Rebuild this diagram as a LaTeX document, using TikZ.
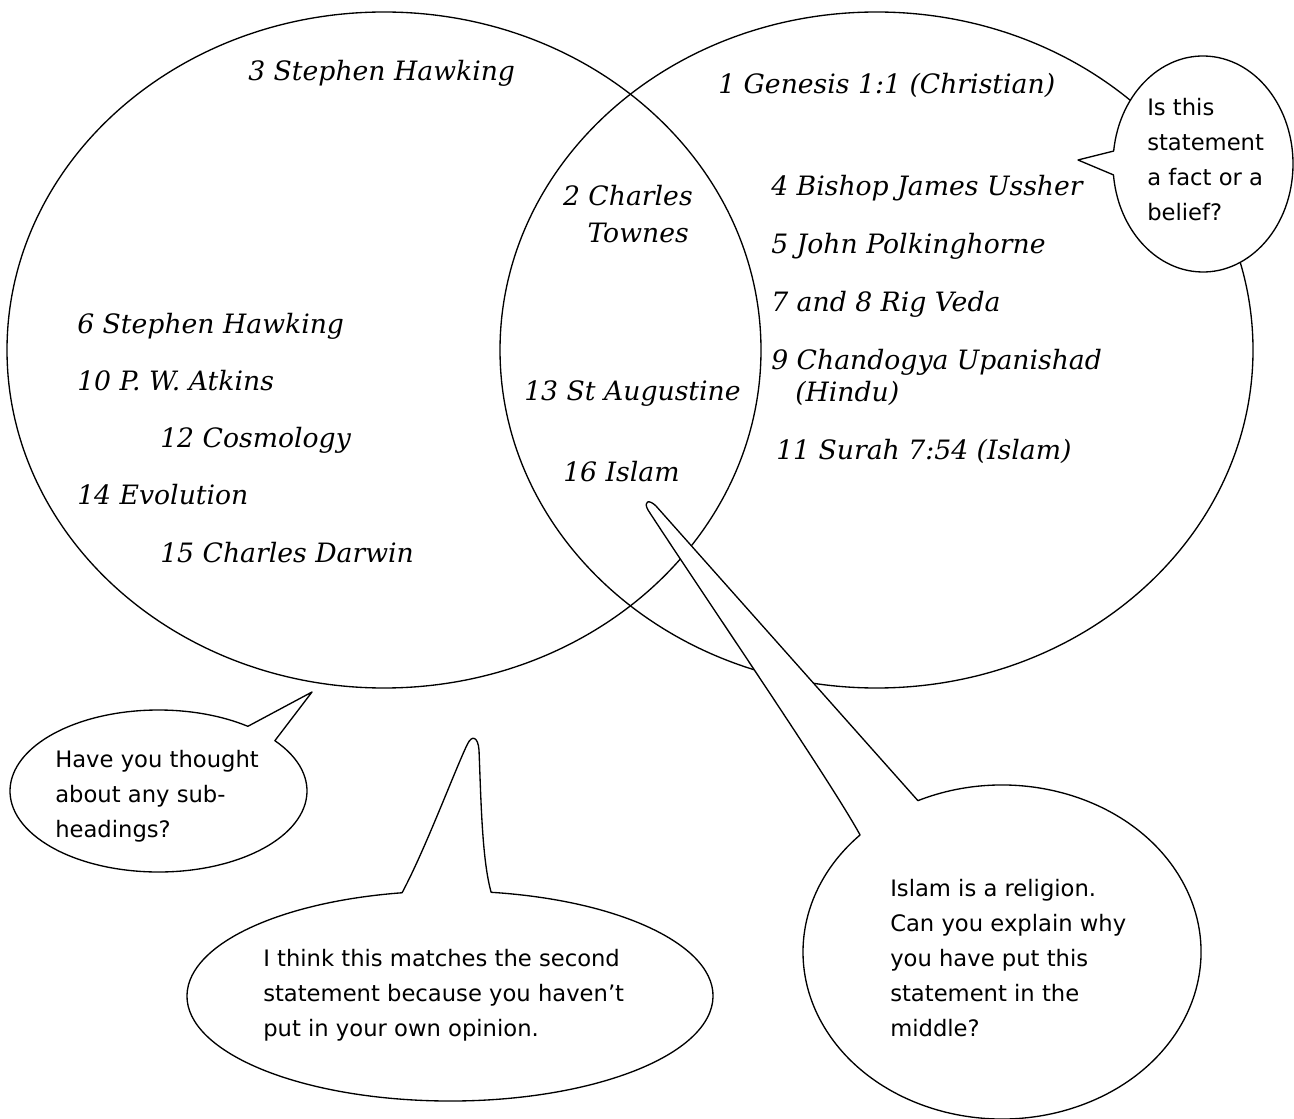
\documentclass[tikz,border=0pt]{standalone}
\usepackage{fontspec}
\setmainfont{DejaVu Sans}
\newfontfamily\vennfont{DejaVu Serif}
\newfontfamily\notefont{DejaVu Sans}
\begin{document}
\begin{tikzpicture}[x=0.75pt,y=-0.75pt,
  lbl/.style={anchor=base west, inner sep=0pt, font=\vennfont\itshape\fontsize{20}{28}\selectfont},
  note/.style={anchor=west, inner sep=0pt, align=left, font=\notefont\fontsize{17}{26.25}\selectfont},
  venn/.style={draw, line width=1pt},
  bubble/.style={draw, fill=white, line width=1pt, line join=round}]
\useasboundingbox (0,0) rectangle (1294,1119);
% the two sets
\draw[venn] (384,350) ellipse [x radius=377, y radius=338];
\draw[venn] (876.5,350) ellipse [x radius=376.5, y radius=338];
% left set
\node[lbl] (l3) at (248,81) {3 Stephen Hawking};
\node[lbl] (l6) at (77,334) {6 Stephen Hawking};
\node[lbl] (l10) at (77,391) {10 P. W. Atkins};
\node[lbl] (l12) at (160,447) {12 Cosmology};
\node[lbl] (l14) at (77,504) {14 Evolution};
\node[lbl] (l15) at (160,562) {15 Charles Darwin};
% middle
\node[lbl, anchor=east, align=right] (l2) at (693,214) {2 Charles\\Townes\hspace*{3pt}};
\node[lbl] (l13) at (524,401) {13 St Augustine};
\node[lbl] (l16) at (563,481) {16 Islam};
% right set
\node[lbl] (l1) at (718,94) {1 Genesis 1:1 (Christian)};
\node[lbl] (l4) at (771,196) {4 Bishop James Ussher};
\node[lbl] (l5) at (771,254) {5 John Polkinghorne};
\node[lbl] (l7) at (771,312) {7 and 8 Rig Veda};
\node[lbl] (l9) at (771,369) {9 Chandogya Upanishad};
\node[lbl] (l9b) at (795,402) {(Hindu)};
\node[lbl] (l11) at (776,459) {11 Surah 7:54 (Islam)};
% speech bubbles
\draw[bubble] (1078,160) -- ({1203+90*cos(186.9)},{164+108*sin(186.9)})
  arc[start angle=186.9, end angle=534.2, x radius=90, y radius=108] -- cycle;
\draw[bubble] (312,692) -- ({158.5+148.5*cos(-38.4)},{791+81*sin(-38.4)})
  arc[start angle=-38.4, end angle=307, x radius=148.5, y radius=81] -- cycle;
\draw[bubble] ({450+263*cos(279)},{996+105*sin(279)})
  arc[start angle=279, end angle=619.5, x radius=263, y radius=105]
  .. controls (425,850) and (455,770) .. (467,745)
  .. controls (472,734) and (478,737) .. (479,750)
  .. controls (481,800) and (482,860) .. ({450+263*cos(279)},{996+105*sin(279)}) -- cycle;
\draw[bubble] ({1002+199*cos(245)},{952+167*sin(245)})
  arc[start angle=245, end angle=584.5, x radius=199, y radius=167]
  .. controls (830,780) and (700,590) .. (648,510)
  .. controls (643,501) and (649,499) .. (656,506) -- cycle;
\node[note] (qfact) at (1147,160) {Is this\\statement\\a fact or a\\belief?};
\node[note] (qsub) at (55,796) {Have you thought\\about any sub-\\headings?};
\node[note] (qopinion) at (263,995) {I think this matches the second\\statement because you haven’t\\put in your own opinion.};
\node[note] (qislam) at (890,958) {Islam is a religion.\\Can you explain why\\you have put this\\statement in the\\middle?};
\end{tikzpicture}
\end{document}
